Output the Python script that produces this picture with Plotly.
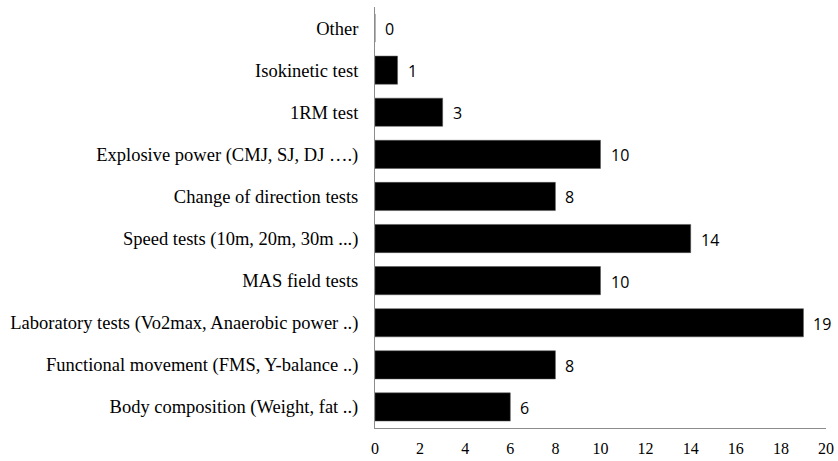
import plotly.graph_objects as go

categories = [
    "Body composition (Weight, fat ..)",
    "Functional movement (FMS, Y-balance ..)",
    "Laboratory tests (Vo2max, Anaerobic power ..)",
    "MAS field tests",
    "Speed tests (10m, 20m, 30m ...)",
    "Change of direction tests",
    "Explosive power (CMJ, SJ, DJ ….)",
    "1RM test",
    "Isokinetic test",
    "Other",
]
values = [6, 8, 19, 10, 14, 8, 10, 3, 1, 0]
x_ticks = [0, 2, 4, 6, 8, 10, 12, 14, 16, 18, 20]

fig = go.Figure()
fig.add_trace(go.Bar(
    y=categories, x=values, orientation="h",
    marker=dict(color="#000000", line=dict(color="#555555", width=0.5)),
    hoverinfo="x+y",
))

for c, v in zip(categories, values):
    fig.add_annotation(
        x=v, y=c, text=str(v), showarrow=False,
        xanchor="left", xshift=8, yshift=-1,
        font=dict(family="Open Sans, Liberation Sans, sans-serif", size=16, color="#000000"),
    )

fig.update_layout(
    width=838, height=461,
    margin=dict(l=375, r=12, t=7, b=33, autoexpand=False),
    paper_bgcolor="white", plot_bgcolor="white",
    bargap=0.33,
    showlegend=False,
    font=dict(family="Liberation Serif, Times New Roman, serif", size=18, color="#000000"),
)
fig.update_xaxes(
    range=[0, 20], tickvals=x_ticks, showgrid=False, zeroline=False,
    showline=True, linecolor="#8c8c8c", linewidth=1, ticks="",
    tickfont=dict(family="Liberation Serif, serif", size=16, color="#000000"),
    ticklabelstandoff=6, automargin=False,
)
fig.update_yaxes(
    categoryorder="array", categoryarray=categories,
    showgrid=False, zeroline=False, showline=True, linecolor="#8c8c8c", linewidth=1,
    ticks="", ticklabelstandoff=12, automargin=False,
    tickfont=dict(family="Liberation Serif, serif", size=18.5, color="#000000"),
)

fig.write_html(
    "out.html",
    config={"displayModeBar": False},
    post_script="document.body.style.margin='0';document.body.style.padding='0';",
)
